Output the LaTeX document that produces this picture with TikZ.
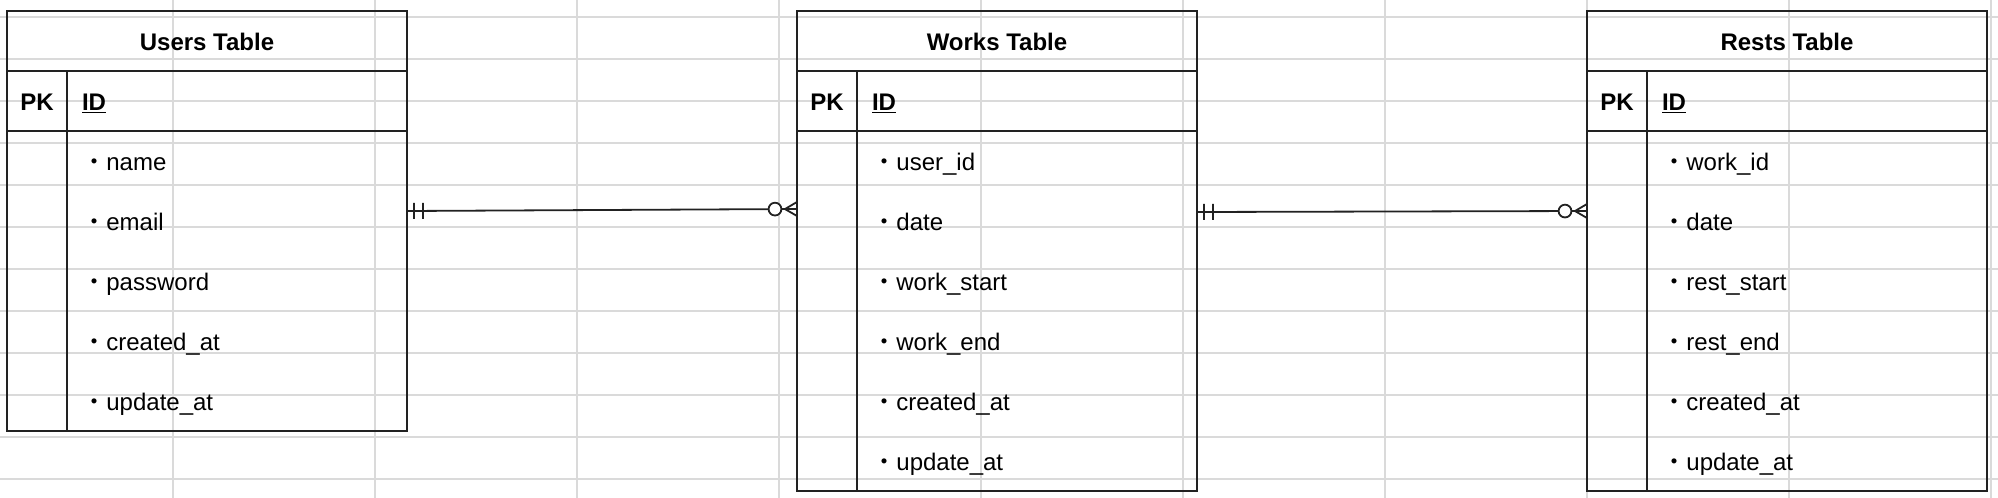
\documentclass[tikz,border=0pt]{standalone}
\usepackage{fontspec}
\setmainfont{Liberation Sans}
\newfontfamily\jpfont{Noto Sans CJK JP}
\usetikzlibrary{positioning,decorations.markings}

\definecolor{gridgray}{RGB}{218,218,218}
\definecolor{erblack}{RGB}{34,34,34}
\newcommand\erfont{\fontsize{12pt}{14pt}\selectfont}

\tikzset{
  tabcell/.style={draw=erblack, line width=1pt, inner sep=0pt, outer sep=0pt,
    minimum height=30pt, text height=9pt, text depth=0pt, font=\erfont\bfseries},
  tabhead/.style={tabcell, minimum width=200pt},
  pkcell/.style={tabcell, minimum width=30pt},
  idcell/.style={tabcell, text width=155pt, inner xsep=7.5pt, align=left},
  keycell/.style={draw=erblack, line width=1pt, inner sep=0pt, outer sep=0pt, minimum width=30pt},
  bodycell/.style={draw=erblack, line width=1pt, inner sep=0pt, outer sep=0pt, minimum width=170pt},
  field/.style={anchor=base west, inner sep=0pt, font=\erfont},
  gridline/.style={draw=gridgray, line width=0.6pt},
  erline/.style={draw=erblack, line width=0.9pt},
  mandone/.style={postaction={decorate, decoration={markings,
    mark=at position 3.5pt with {\draw[erline] (0,-4pt) -- (0,4pt);},
    mark=at position 8pt with {\draw[erline] (0,-4pt) -- (0,4pt);}}}},
  zeromany/.style={postaction={decorate, decoration={markings,
    mark=at position -11pt with {\draw[erline, fill=white] (0,0) circle (3.2pt);},
    mark=at position -6pt with {\draw[erline] (6pt,3.5pt) -- (0,0) -- (6pt,-3.5pt);}}}}
}

\begin{document}
\begin{tikzpicture}[x=0.5pt, y=-0.5pt]
  \useasboundingbox (0,0) rectangle (1998,498);

  \foreach \gx in {173,375,...,1992} \draw[gridline] (\gx,0) -- (\gx,498);
  \foreach \gy in {17,59,...,498} \draw[gridline] (0,\gy) -- (1998,\gy);

  % users
  \node (users) [tabhead] at (207,41) {Users Table};
  \node (usersPK) [pkcell, below right=0pt of users.south west] {PK};
  \node (usersID) [idcell, right=0pt of usersPK] {\underline{ID}};
  \node (usersKey) [keycell, minimum height=150pt, below=0pt of usersPK] {};
  \node (usersBody) [bodycell, minimum height=150pt, below=0pt of usersID] {};
  \foreach \f [count=\i, evaluate=\i as \yy using 10.5-30*\i] in {name,email,password,created\_at,update\_at}
    \node (usersF\i) [field] at ([xshift=7.5pt, yshift=\yy pt]usersBody.north west) {{\jpfont ・}\f};

  % works
  \node (works) [tabhead] at (997,41) {Works Table};
  \node (worksPK) [pkcell, below right=0pt of works.south west] {PK};
  \node (worksID) [idcell, right=0pt of worksPK] {\underline{ID}};
  \node (worksKey) [keycell, minimum height=180pt, below=0pt of worksPK] {};
  \node (worksBody) [bodycell, minimum height=180pt, below=0pt of worksID] {};
  \foreach \f [count=\i, evaluate=\i as \yy using 10.5-30*\i] in {user\_id,date,work\_start,work\_end,created\_at,update\_at}
    \node (worksF\i) [field] at ([xshift=7.5pt, yshift=\yy pt]worksBody.north west) {{\jpfont ・}\f};

  % rests
  \node (rests) [tabhead] at (1787,41) {Rests Table};
  \node (restsPK) [pkcell, below right=0pt of rests.south west] {PK};
  \node (restsID) [idcell, right=0pt of restsPK] {\underline{ID}};
  \node (restsKey) [keycell, minimum height=180pt, below=0pt of restsPK] {};
  \node (restsBody) [bodycell, minimum height=180pt, below=0pt of restsID] {};
  \foreach \f [count=\i, evaluate=\i as \yy using 10.5-30*\i] in {work\_id,date,rest\_start,rest\_end,created\_at,update\_at}
    \node (restsF\i) [field] at ([xshift=7.5pt, yshift=\yy pt]restsBody.north west) {{\jpfont ・}\f};

  % relations
  \coordinate (usersOut) at ([yshift=-40pt]usersBody.north east);
  \coordinate (worksIn) at ([yshift=-39pt]worksKey.north west);
  \coordinate (worksOut) at ([yshift=-40.5pt]worksBody.north east);
  \coordinate (restsIn) at ([yshift=-40pt]restsKey.north west);

  \draw [erline, mandone, zeromany] (usersOut) -- (worksIn);
  \draw [erline, mandone, zeromany] (worksOut) -- (restsIn);

\end{tikzpicture}
\end{document}
